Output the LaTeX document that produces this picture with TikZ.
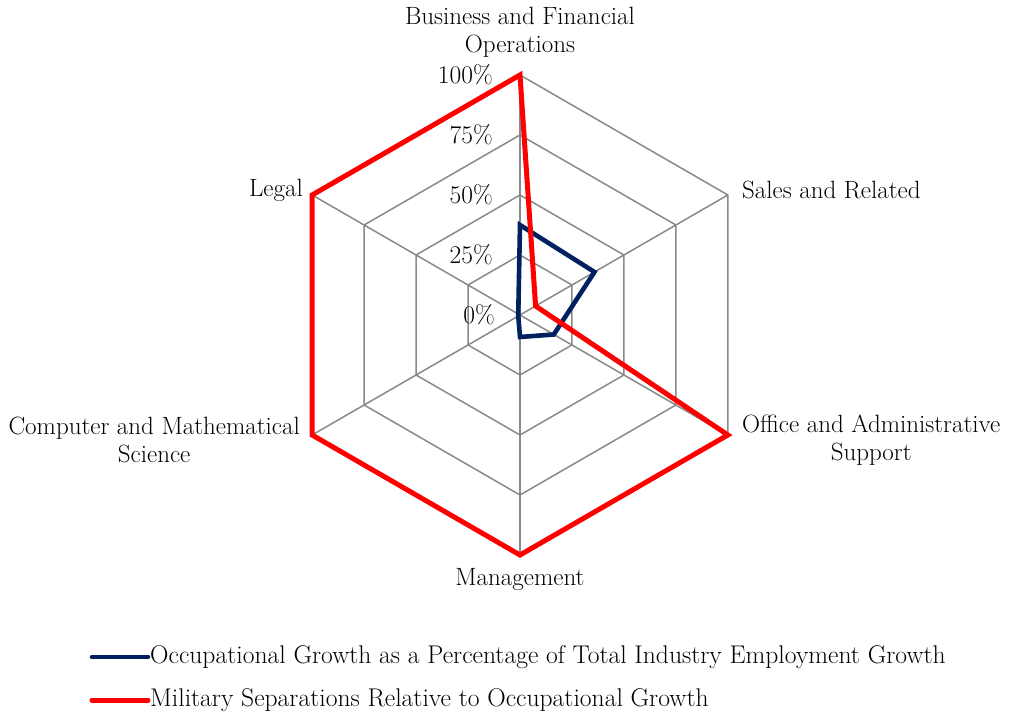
\documentclass[tikz,border=0pt]{standalone}
\usepackage{tikz}
\usetikzlibrary{positioning}
\definecolor{navy}{HTML}{002060}
\definecolor{gridgray}{HTML}{898989}

\begin{document}
\begin{tikzpicture}[x=1pt,y=1pt, grd/.style={draw=gridgray,line width=1.5pt},
		lbl/.style={font=\fontsize{25}{28}\selectfont,align=center,inner sep=0pt},
		tck/.style={font=\fontsize{25.5}{28}\selectfont,inner sep=0pt,anchor=east},
		lgd/.style={font=\fontsize{25.6}{28}\selectfont,inner sep=0pt,anchor=west},
		sera/.style={draw=navy,line width=4.6pt},
		serb/.style={draw=red,line width=5pt}]
	\useasboundingbox (-520,-402) rectangle (490,315);
	% rings
	\draw[grd] (90:60) -- (30:60) -- (-30:60) -- (-90:60) -- (210:60) -- (150:60) -- cycle;
	\draw[grd] (90:120) -- (30:120) -- (-30:120) -- (-90:120) -- (210:120) -- (150:120) -- cycle;
	\draw[grd] (90:180) -- (30:180) -- (-30:180) -- (-90:180) -- (210:180) -- (150:180) -- cycle;
	\draw[grd] (90:240) -- (30:240) -- (-30:240) -- (-90:240) -- (210:240) -- (150:240) -- cycle;
	% spokes
	\coordinate (c) at (0,0);
	\draw[grd] (c) -- (90:240);
	\draw[grd] (c) -- (30:240);
	\draw[grd] (c) -- (-30:240);
	\draw[grd] (c) -- (-90:240);
	\draw[grd] (c) -- (210:240);
	\draw[grd] (c) -- (150:240);
	% tick labels
	\node[tck] (t100) at (-27,240) {100\%};
	\node[tck] (t75) at (-27,180) {75\%};
	\node[tck] (t50) at (-27,120) {50\%};
	\node[tck] (t25) at (-27,60) {25\%};
	\node[tck] (t0) at (-25,0) {0\%};
	% axis labels
	\node[lbl] (bus) at (0,283) {Business and Financial\\Operations};
	\node[lbl,anchor=west] (sal) at (222,125) {Sales and Related};
	\node[lbl,anchor=west] (off) at (222,-125) {Office and Administrative\\Support};
	\node[lbl] (man) at (0,-265) {Management};
	\node[lbl,anchor=east] (com) at (-220,-125) {Computer and Mathematical\\Science};
	\node[lbl,anchor=east] (leg) at (-217,125) {Legal};
	% occupational growth
	\coordinate (a1) at (90:90);
	\coordinate (a2) at (30:86);
	\coordinate (a3) at (-30:39);
	\coordinate (a4) at (-90:22);
	\coordinate (a5) at (210:2);
	\coordinate (a6) at (150:2);
	\draw[sera] (a1) -- (a2) -- (a3) -- (a4) -- (a5) -- (a6) -- cycle;
	% military separations
	\coordinate (b1) at (90:240);
	\coordinate (b2) at (30:18);
	\coordinate (b3) at (-30:240);
	\coordinate (b4) at (-90:240);
	\coordinate (b5) at (210:240);
	\coordinate (b6) at (150:240);
	\draw[serb] (b1) -- (b2) -- (b3) -- (b4) -- (b5) -- (b6) -- cycle;
	% legend
	\coordinate (la0) at (-428,-342);
	\coordinate (la1) at (-372,-342);
	\coordinate (lb0) at (-428,-385);
	\coordinate (lb1) at (-372,-385);
	\draw[sera,line cap=round] (la0) -- (la1);
	\draw[serb,line cap=round] (lb0) -- (lb1);
	\node[lgd] (lga) at (-370,-342) {Occupational Growth as a Percentage  of Total Industry Employment Growth};
	\node[lgd] (lgb) at (-370,-385) {Military Separations Relative to Occupational Growth};
\end{tikzpicture}
\end{document}
